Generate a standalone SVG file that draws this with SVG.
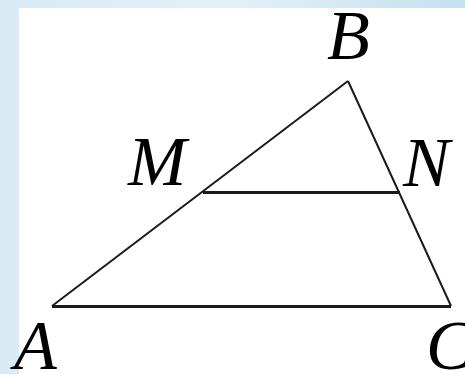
<svg xmlns="http://www.w3.org/2000/svg" width="465" height="374" viewBox="0 0 465 374">
<defs>
<linearGradient id="bg" x1="0" y1="0" x2="1" y2="0">
<stop offset="0" stop-color="#d9eaf4"/>
<stop offset="0.5" stop-color="#e3f0f7"/>
<stop offset="1" stop-color="#c4e1ee"/>
</linearGradient>
<style>
.lbl{font-family:"Liberation Serif","Times New Roman",serif;font-style:italic;font-size:70px;fill:#000}
.thin{stroke:#1a1a1a;stroke-width:2;fill:none}
.thick{stroke:#1a1a1a;stroke-width:3;fill:none}
</style>
</defs>
<rect width="465" height="374" fill="url(#bg)"/>
<rect x="19" y="8" width="446" height="366" fill="#fff"/>
<g id="connectors">
<line class="thin" x1="52" y1="306" x2="348" y2="81"/>
<line class="thin" x1="348" y1="81" x2="451" y2="306"/>
<line class="thick" x1="52" y1="306.5" x2="451" y2="306.5"/>
<line class="thick" x1="203" y1="192.5" x2="400" y2="192.5"/>
</g>
<g id="B"><text class="lbl" x="327" y="59">B</text></g>
<g id="M"><text class="lbl" x="128" y="185">M</text></g>
<g id="N"><text class="lbl" x="403" y="186">N</text></g>
<g id="A"><text class="lbl" x="14" y="369">A</text></g>
<g id="C"><text class="lbl" x="426" y="369">C</text></g>
</svg>
